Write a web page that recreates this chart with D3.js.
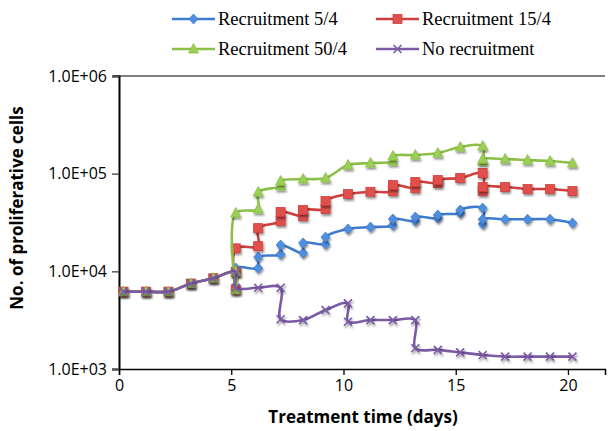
<!DOCTYPE html>
<html>
<head>
<meta charset="utf-8">
<script src="https://cdn.jsdelivr.net/npm/d3@7"></script>
<style>
  body { margin: 0; background: #fff; }
  svg { display: block; }
</style>
</head>
<body>
<script>
// times (days) and cell counts, one pair of arrays per series
const startTimes = [0.2, 1.2, 2.2, 3.2, 4.2];
const startCells = [6200, 6200, 6200, 7500, 8500];

const times5 = [5.2, 5.2, 5.2, 6.2, 6.2, 7.2, 7.2, 8.2, 8.2, 9.2, 9.2, 10.2, 11.2, 12.2, 12.2, 13.2, 13.2, 14.2, 14.2, 15.2, 15.2, 16.2, 16.2, 16.2, 17.2, 18.2, 19.2, 20.2];
const cells5 = [9900, 6500, 10800, 10800, 14000, 15000, 18600, 15400, 19500, 19000, 22400, 27100, 28400, 29800, 34300, 32700, 36000, 35100, 37700, 39500, 42400, 44400, 30500, 34100, 34100, 34100, 34100, 31300];

const times15 = [5.2, 5.2, 5.2, 6.2, 6.2, 7.2, 7.2, 8.2, 8.2, 9.2, 9.2, 10.2, 11.2, 12.2, 12.2, 13.2, 13.2, 14.2, 14.2, 15.2, 16.2, 16.2, 16.2, 17.2, 18.2, 19.2, 20.2];
const cells15 = [9900, 6500, 17200, 18100, 27700, 32700, 40500, 36800, 42400, 43400, 52400, 61800, 65300, 66300, 76400, 71200, 82000, 80100, 86000, 90200, 101400, 66300, 72900, 72900, 69600, 69600, 66300];

const times50 = [5.2, 5.2, 5.2, 6.2, 6.2, 7.2, 7.2, 8.2, 9.2, 10.2, 11.2, 12.2, 12.2, 13.2, 14.2, 15.2, 16.2, 16.2, 16.2, 17.2, 18.2, 19.2, 20.2];
const cells50 = [9900, 6500, 39500, 43400, 64800, 74700, 84000, 88000, 90200, 122500, 128400, 134600, 151400, 155000, 162500, 187300, 191700, 134600, 141100, 141100, 137800, 134600, 128400];

const timesNone = [5.2, 5.2, 6.2, 7.2, 7.2, 8.2, 9.2, 10.2, 10.2, 11.2, 12.2, 13.2, 13.2, 14.2, 15.2, 16.2, 17.2, 18.2, 19.2, 20.2];
const cellsNone = [9900, 6800, 6800, 6800, 3230, 3170, 4020, 4700, 3050, 3170, 3170, 3170, 1630, 1570, 1480, 1390, 1340, 1340, 1340, 1340];

const seriesNames = ["Recruitment 5/4", "Recruitment 15/4", "Recruitment 50/4", "No recruitment"];
const yTicks = [1e3, 1e4, 1e5, 1e6];
const xTicks = [0, 5, 10, 15, 20];

const W = 609, H = 431;

const series = [
  { name: seriesNames[0], t: times5, v: cells5, color: "#3d7bcc", fill: "#4f8fe0", shape: "diamond" },
  { name: seriesNames[1], t: times15, v: cells15, color: "#cf3f3c", fill: "#e0504c", shape: "square" },
  { name: seriesNames[2], t: times50, v: cells50, color: "#8cbf48", fill: "#9ccf56", shape: "triangle" },
  { name: seriesNames[3], t: timesNone, v: cellsNone, color: "#7b5aa6", fill: "#7b5aa6", shape: "cross" }
];
series.forEach(s => {
  s.points = startTimes.map((t, i) => [t, startCells[i]])
    .concat(s.t.map((t, i) => [t, s.v[i]]));
});

const x = d3.scaleLinear().domain([0, 21.65]).range([119, 605]);
const y = d3.scaleLog().domain([1e3, 1e6]).range([369, 76]);

const svg = d3.select("body").append("svg")
  .attr("width", W)
  .attr("height", H);

const defs = svg.append("defs");
defs.append("filter").attr("id", "shadow")
  .attr("x", "-50%").attr("y", "-50%").attr("width", "200%").attr("height", "200%")
  .append("feDropShadow")
  .attr("dx", 1).attr("dy", 2).attr("stdDeviation", 1.2)
  .attr("flood-color", "#000").attr("flood-opacity", 0.45);

// top border
svg.append("line")
  .attr("x1", 113).attr("x2", 605)
  .attr("y1", y(1e6)).attr("y2", y(1e6))
  .attr("stroke", "#7f7f7f").attr("stroke-width", 2);

// x axis
const xAxis = svg.append("g")
  .attr("transform", "translate(0," + y(1e3) + ")")
  .call(d3.axisBottom(x).tickValues(xTicks).tickSizeOuter(0).tickSize(6).tickPadding(5));
xAxis.select(".domain").attr("stroke", "#000").attr("stroke-width", 1.5);
xAxis.selectAll(".tick line").attr("stroke", "#000").attr("stroke-width", 1.3);
xAxis.selectAll("text")
  .attr("font-family", "Open Sans")
  .attr("font-size", 16)
  .attr("fill", "#000");

// y axis
const yAxis = svg.append("g")
  .attr("transform", "translate(" + x(0) + ",0)")
  .call(d3.axisLeft(y).tickValues(yTicks).tickSizeOuter(0).tickSize(7).tickPadding(5)
    .tickFormat(d => "1.0E+" + String(Math.round(Math.log10(d))).padStart(2, "0")));
yAxis.select(".domain").attr("stroke", "#000").attr("stroke-width", 2);
yAxis.selectAll(".tick line").attr("stroke", "#555").attr("stroke-width", 1.5);
yAxis.selectAll("text")
  .attr("font-family", "Open Sans")
  .attr("font-size", 16)
  .attr("fill", "#000");

// axis titles
svg.append("text")
  .attr("transform", "translate(23," + 208 + ") rotate(-90)")
  .attr("text-anchor", "middle")
  .attr("font-family", "Open Sans")
  .attr("font-weight", "bold")
  .attr("font-size", 17)
  .text("No. of proliferative cells");

svg.append("text")
  .attr("x", 363).attr("y", 423)
  .attr("text-anchor", "middle")
  .attr("font-family", "Open Sans")
  .attr("font-weight", "bold")
  .attr("font-size", 17)
  .text("Treatment time (days)");

// markers
function marker(g, shape, color, fill) {
  if (shape === "diamond") {
    g.append("path").attr("d", "M0,-5L4.5,0L0,5L-4.5,0Z").attr("fill", fill).attr("stroke", color).attr("stroke-width", 0.8);
  } else if (shape === "square") {
    g.append("rect").attr("x", -4.5).attr("y", -4.5).attr("width", 9).attr("height", 9)
      .attr("fill", fill).attr("stroke", color).attr("stroke-width", 0.8);
  } else if (shape === "triangle") {
    g.append("path").attr("d", "M0,-5.5L5,4L-5,4Z").attr("fill", fill).attr("stroke", color).attr("stroke-width", 0.8);
  } else {
    g.append("path").attr("d", "M-4,-4L4,4M-4,4L4,-4").attr("stroke", color).attr("stroke-width", 1.6);
  }
}

const line = d3.line()
  .x(d => x(d[0]))
  .y(d => y(d[1]))
  .curve(d3.curveCatmullRom.alpha(0.5));

series.forEach(s => {
  const g = svg.append("g");
  g.append("path")
    .datum(s.points)
    .attr("d", line)
    .attr("fill", "none")
    .attr("stroke", s.color)
    .attr("stroke-width", 2.6);
  g.selectAll("g.m")
    .data(s.points)
    .join("g")
    .attr("class", "m")
    .attr("filter", "url(#shadow)")
    .attr("transform", d => "translate(" + x(d[0]) + "," + y(d[1]) + ")")
    .each(function () { marker(d3.select(this), s.shape, s.color, s.fill); });
});

// legend
const legendPos = [[172, 19], [376, 19], [172, 49], [376, 49]];
series.forEach((s, i) => {
  const [lx, ly] = legendPos[i];
  const g = svg.append("g").attr("transform", "translate(" + lx + "," + ly + ")");
  g.append("line").attr("x1", 0).attr("x2", 43).attr("y1", 0).attr("y2", 0)
    .attr("stroke", s.color).attr("stroke-width", 2.6);
  const m = g.append("g").attr("transform", "translate(21.5,0)");
  marker(m, s.shape, s.color, s.fill);
  g.append("text")
    .attr("x", 46).attr("y", 6)
    .attr("font-family", "Liberation Serif")
    .attr("font-size", 18.5)
    .attr("fill", "#000")
    .text(s.name);
});
</script>
</body>
</html>
